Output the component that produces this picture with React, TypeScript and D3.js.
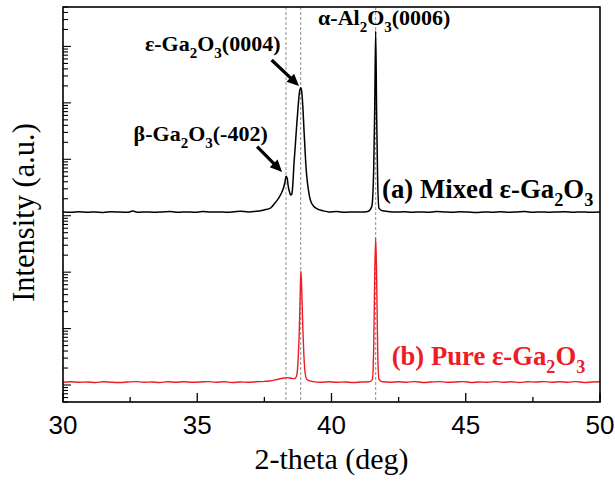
import React from 'react';
import * as d3 from 'd3';

const W = 615;
const H = 483;
const margin = { left: 63, right: 15, top: 7, bottom: 81 };

const xDomain = [30, 50];
const yDomain = [5, 5e7];
const xMajorTicks = [30, 35, 40, 45, 50];
const xMinorTicks = [32.5, 37.5, 42.5, 47.5];
const peakLines = [38.305, 38.853, 41.646];

const mixedTheta = [
  30.0, 30.3, 30.6, 30.9, 31.2, 31.5, 31.8, 32.1, 32.4, 32.6, 32.8, 33.1, 33.4, 33.7, 34.0, 34.3, 34.6, 34.9,
  35.2, 35.5, 35.8, 36.1, 36.4, 36.6, 36.9, 37.2, 37.4, 37.55, 37.71, 37.8, 37.9, 38.0, 38.08, 38.15, 38.21,
  38.26, 38.31, 38.35, 38.39, 38.44, 38.48, 38.52, 38.56, 38.6, 38.64, 38.7, 38.76, 38.8, 38.85, 38.89, 38.93,
  38.98, 39.02, 39.05, 39.1, 39.14, 39.2, 39.26, 39.35, 39.45, 39.7, 39.9, 40.2, 40.5, 40.8, 41.1, 41.35, 41.5,
  41.57, 41.61, 41.645, 41.68, 41.72, 41.77, 41.9, 42.1, 42.4, 42.7, 43.0, 43.3, 43.6, 43.9, 44.2, 44.5, 44.8,
  45.1, 45.4, 45.7, 46.0, 46.3, 46.6, 46.9, 47.2, 47.5, 47.8, 48.1, 48.4, 48.7, 49.0, 49.3, 49.6, 50.0,
];
const mixedCounts = [
  11600, 11500, 11800, 11500, 11700, 11400, 11800, 11600, 11500, 12100, 11500, 11700, 11500, 11700, 11900, 11500,
  11700, 11500, 11900, 11600, 11700, 11500, 11800, 12000, 11700, 12000, 12400, 12900, 13500, 14800, 17000, 19500,
  22500, 26000, 31000, 38000, 50000, 46000, 33000, 26000, 23300, 24000, 36000, 80000, 146000, 378000, 900000,
  1450000, 1850000, 1600000, 900000, 300000, 130000, 74000, 40000, 28600, 20000, 16600, 14500, 13300, 12200, 11700,
  11900, 11500, 11700, 11600, 11900, 14500, 60000, 800000, 18800000, 700000, 40000, 13500, 12200, 11900, 11600,
  11800, 11500, 11700, 11500, 11900, 11700, 11500, 11800, 11600, 11400, 11700, 11500, 11800, 11500, 11700, 11900,
  11500, 11700, 11500, 11700, 11800, 11500, 11700, 11500, 11600,
];

const pureTheta = [
  30.0, 30.3, 30.6, 30.9, 31.2, 31.5, 31.8, 32.1, 32.4, 32.7, 33.0, 33.3, 33.6, 33.9, 34.2, 34.5, 34.8, 35.1,
  35.4, 35.7, 36.0, 36.3, 36.6, 36.9, 37.2, 37.5, 37.7, 37.9, 38.05, 38.2, 38.35, 38.5, 38.62, 38.7, 38.76, 38.8,
  38.83, 38.86, 38.89, 38.93, 38.97, 39.02, 39.1, 39.3, 39.6, 39.9, 40.2, 40.5, 40.8, 41.1, 41.4, 41.52, 41.57,
  41.61, 41.645, 41.68, 41.72, 41.77, 41.9, 42.2, 42.5, 42.8, 43.1, 43.4, 43.7, 44.0, 44.3, 44.6, 44.9, 45.2,
  45.5, 45.8, 46.1, 46.4, 46.7, 47.0, 47.3, 47.6, 47.9, 48.2, 48.5, 48.8, 49.1, 49.4, 49.7, 50.0,
];
const pureCounts = [
  11.2, 11.4, 11.2, 11.3, 11.1, 11.4, 11.2, 11.1, 11.3, 11.5, 11.2, 11.3, 11.1, 11.4, 11.2, 11.4, 11.2, 11.3,
  11.5, 11.2, 11.4, 11.1, 11.3, 11.2, 11.4, 11.6, 11.8, 12.3, 12.8, 13.2, 13.5, 13.2, 13.0, 14.5, 30, 90,
  330, 1050, 500, 110, 35, 16, 12.3, 11.5, 11.2, 11.4, 11.2, 11.3, 11.1, 11.3, 11.4, 12.5, 40,
  900, 4030, 900, 40, 12.5, 11.4, 11.2, 11.4, 11.2, 11.5, 11.1, 11.3, 11.5, 11.2, 11.3, 11.5, 11.1,
  11.3, 11.2, 11.5, 11.2, 11.4, 11.1, 11.4, 11.3, 11.5, 11.2, 11.4, 11.2, 11.5, 11.1, 11.3, 11.4,
];

type Part = [string, boolean];
const labelAl: Part[] = [['α-Al', false], ['2', true], ['O', false], ['3', true], ['(0006)', false]];
const labelEps: Part[] = [['ε-Ga', false], ['2', true], ['O', false], ['3', true], ['(0004)', false]];
const labelBeta: Part[] = [['β-Ga', false], ['2', true], ['O', false], ['3', true], ['(-402)', false]];
const labelMixed: Part[] = [['(a) Mixed ε-Ga', false], ['2', true], ['O', false], ['3', true]];
const labelPure: Part[] = [['(b) Pure ε-Ga', false], ['2', true], ['O', false], ['3', true]];

const xTitle = '2-theta (deg)';
const yTitle = 'Intensity (a.u.)';

const SERIF = '"Liberation Serif", "Times New Roman", serif';
const SANS = '"Liberation Sans", Arial, sans-serif';
const RED = '#ee1c25';

function Chem({ parts, x, y, size, fill }: { parts: Part[]; x: number; y: number; size: number; fill: string }) {
  let prevSub = false;
  const shift = size * 0.3;
  return (
    <text x={x} y={y} fontFamily={SERIF} fontWeight="bold" fontSize={size} fill={fill}>
      {parts.map(([t, sub], i) => {
        let dy = 0;
        if (sub && !prevSub) dy = shift;
        if (!sub && prevSub) dy = -shift;
        prevSub = sub;
        return (
          <tspan key={i} dy={dy} fontSize={sub ? size * 0.68 : size}>
            {t}
          </tspan>
        );
      })}
    </text>
  );
}

function Arrow({ x1, y1, x2, y2 }: { x1: number; y1: number; x2: number; y2: number }) {
  const dx = x2 - x1;
  const dy = y2 - y1;
  const len = Math.sqrt(dx * dx + dy * dy);
  const ux = dx / len;
  const uy = dy / len;
  const hl = 12;
  const hw = 5.5;
  const bx = x2 - ux * hl;
  const by = y2 - uy * hl;
  const px = -uy;
  const py = ux;
  return (
    <g>
      <line x1={x1} y1={y1} x2={bx + ux * 1} y2={by + uy * 1} stroke="#000" strokeWidth={3.2} />
      <polygon
        points={`${x2},${y2} ${bx + px * hw},${by + py * hw} ${bx - px * hw},${by - py * hw}`}
        fill="#000"
      />
    </g>
  );
}

export default function App() {
  const x = d3.scaleLinear().domain(xDomain).range([margin.left, W - margin.right]);
  const y = d3.scaleLog().domain(yDomain).range([H - margin.bottom, margin.top]);
  const x0 = margin.left;
  const x1 = W - margin.right;
  const y0 = H - margin.bottom;
  const y1 = margin.top;

  const line = d3
    .line<[number, number]>()
    .x((d) => x(d[0]))
    .y((d) => y(d[1]))
    .curve(d3.curveMonotoneX);

  const mixed: [number, number][] = mixedTheta.map((t, i) => [t, mixedCounts[i]]);
  const pure: [number, number][] = pureTheta.map((t, i) => [t, pureCounts[i]]);

  const yTicks = y.ticks();
  const isMajor = (v: number) => Math.abs(Math.log10(v) - Math.round(Math.log10(v))) < 1e-6;

  return (
    <svg
      width={W}
      height={H}
      style={{ position: 'absolute', left: 0, top: 0, display: 'block', background: '#fff' }}
    >
      <rect x={0} y={0} width={W} height={H} fill="#fff" />
      {peakLines.map((p, i) => (
        <line
          key={i}
          x1={x(p)}
          x2={x(p)}
          y1={y1}
          y2={y0}
          stroke="#808080"
          strokeWidth={0.9}
          strokeDasharray="3,2"
        />
      ))}
      <path d={line(pure) || ''} fill="none" stroke={RED} strokeWidth={1.4} strokeLinejoin="round" />
      <path d={line(mixed) || ''} fill="none" stroke="#000" strokeWidth={1.5} strokeLinejoin="round" />

      {xMajorTicks.map((t) => (
        <g key={'M' + t}>
          <line x1={x(t)} x2={x(t)} y1={y0} y2={y0 - 9} stroke="#000" strokeWidth={1.3} />
          <text x={x(t)} y={y0 + 32} textAnchor="middle" fontFamily={SANS} fontSize={26} fill="#000">
            {t}
          </text>
        </g>
      ))}
      {xMinorTicks.map((t) => (
        <line key={'m' + t} x1={x(t)} x2={x(t)} y1={y0} y2={y0 - 5} stroke="#000" strokeWidth={1.3} />
      ))}
      {yTicks.map((v, i) => (
        <line
          key={'y' + i}
          x1={x0}
          x2={x0 + (isMajor(v) ? 8 : 5)}
          y1={y(v)}
          y2={y(v)}
          stroke="#000"
          strokeWidth={1.1}
        />
      ))}
      <rect x={x0} y={y1} width={x1 - x0} height={y0 - y1} fill="none" stroke="#000" strokeWidth={1.6} />

      <Chem parts={labelAl} x={x(39.5)} y={y(2.4e7)} size={22} fill="#000" />
      <Chem parts={labelEps} x={x(33.05)} y={y(8.2e6)} size={22} fill="#000" />
      <Chem parts={labelBeta} x={x(32.63)} y={y(2.1e5)} size={22} fill="#000" />
      <Chem parts={labelMixed} x={x(41.88)} y={y(20600)} size={26.8} fill="#000" />
      <Chem parts={labelPure} x={x(42.24)} y={y(22.6)} size={26.7} fill={RED} />

      <Arrow x1={x(37.23)} y1={y(167000)} x2={x(38.16)} y2={y(59600)} />
      <Arrow x1={x(37.77)} y1={y(5.75e6)} x2={x(38.79)} y2={y(1.99e6)} />

      <text x={(x0 + x1) / 2} y={469} textAnchor="middle" fontFamily={SERIF} fontSize={30} fill="#000">
        {xTitle}
      </text>
      <text
        transform={`translate(34, ${(y0 + y1) / 2 + 8}) rotate(-90)`}
        textAnchor="middle"
        fontFamily={SERIF}
        fontSize={30.5}
        fill="#000"
      >
        {yTitle}
      </text>
    </svg>
  );
}
